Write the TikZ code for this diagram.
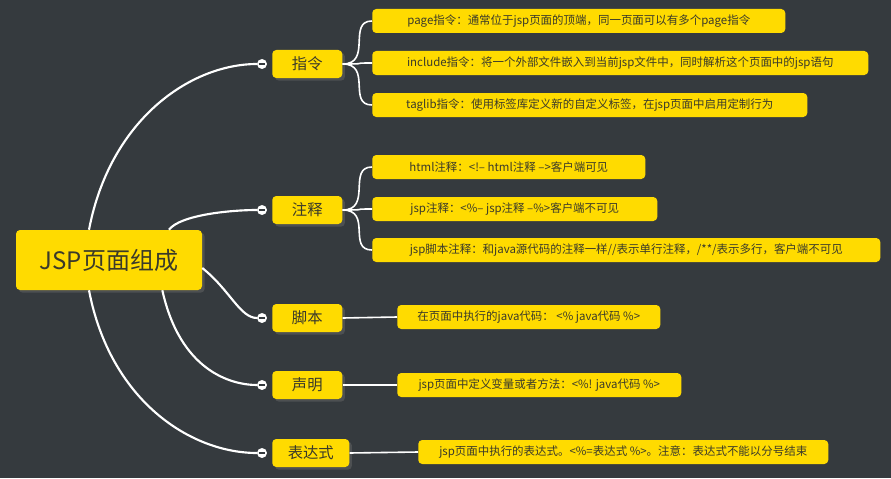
\documentclass[tikz,border=0pt]{standalone}
\usepackage{fontspec}
\setmainfont{Noto Sans CJK SC}
\usetikzlibrary{positioning,shadows}
\definecolor{bgdark}{HTML}{353A3E}
\definecolor{boxyellow}{HTML}{FFDB00}
\definecolor{boxtext}{HTML}{3A3A2A}
\begin{document}
\begin{tikzpicture}
	[%%%%%%%%%%%%%%%%%%%%%%%%%%%%%%%%%%%%%%%%%%%%%%%%%%%%%%%%%%
		x=0.75pt,y=-0.75pt,
		rootbox/.style={fill=boxyellow,rounded corners=3pt,text=boxtext,
			minimum width=139.5pt,minimum height=45pt,font=\fontsize{18}{18}\selectfont,
			drop shadow={shadow xshift=2pt,shadow yshift=-2pt,fill=black!60}},
		topic/.style={fill=boxyellow,rounded corners=3pt,text=boxtext,anchor=west,
			minimum height=21pt,font=\fontsize{11.5}{12}\selectfont,
			drop shadow={shadow xshift=2pt,shadow yshift=-2pt,fill=black!60}},
		leaf/.style={fill=boxyellow,rounded corners=3pt,text=boxtext,anchor=west,
			minimum height=18pt,inner xsep=6pt,font=\fontsize{8.6}{9}\selectfont},
		knob/.style={circle,draw=white,fill=white,inner sep=0pt,minimum size=7pt},
		branch/.style={draw=white,line width=1.6pt},
		twig/.style={draw=white,line width=1.2pt}
	]%%%%%%%%%%%%%%%%%%%%%%%%%%%%%%%%%%%%%%%%%%%%%%%%%%%%%%%%%%
	\fill[bgdark] (0,0) rectangle (891,478);
	\useasboundingbox (0,0) rectangle (891,478);

	\node[rootbox] (root) at (109,260) {JSP页面组成};

	\node[topic,minimum width=52.5pt] (zl) at (272,64) {指令};
	\node[topic,minimum width=52.5pt] (zs) at (272,210) {注释};
	\node[topic,minimum width=52.5pt] (jb) at (272,318) {脚本};
	\node[topic,minimum width=52.5pt] (sm) at (272,385) {声明};
	\node[topic,minimum width=57.75pt] (bds) at (272,453) {表达式};

	\foreach \t in {zl,zs,jb,sm,bds}{
		\node[knob] (k\t) at ([xshift=-7.5pt]\t.west) {};
		\draw[bgdark,line width=1pt] ([xshift=-2.5pt]k\t.center) -- ([xshift=2.5pt]k\t.center);
	}

	\node[leaf,minimum width=309.75pt] (page) at (372,21) {page指令：通常位于jsp页面的顶端，同一页面可以有多个page指令};
	\node[leaf,minimum width=372pt] (incl) at (372,63) {include指令：将一个外部文件嵌入到当前jsp文件中，同时解析这个页面中的jsp语句};
	\node[leaf,minimum width=326.25pt] (tlib) at (372,105) {taglib指令：使用标签库定义新的自定义标签，在jsp页面中启用定制行为};
	\node[leaf,minimum width=204.75pt] (hzs) at (372,167) {html注释：<!-- html注释 -->客户端可见};
	\node[leaf,minimum width=213.75pt] (jzs) at (372,209) {jsp注释：<\%-- jsp注释 --\%>客户端不可见};
	\node[leaf,minimum width=381pt] (jbzs) at (372,250) {jsp脚本注释：和java源代码的注释一样//表示单行注释，/**/表示多行，客户端不可见};
	\node[leaf,minimum width=197.25pt] (jbd) at (397,317) {在页面中执行的java代码： <\% java代码 \%>};
	\node[leaf,minimum width=213pt] (smd) at (397,385) {jsp页面中定义变量或者方法：<\%! java代码 \%>};
	\node[leaf,minimum width=307.5pt] (bdd) at (418,452) {jsp页面中执行的表达式。<\%=表达式 \%>。注意：表达式不能以分号结束};

	% main branches
	\draw[branch] ([xshift=-15pt]root.north) .. controls (110,120) and (190,64) .. (kzl.west);
	\draw[branch] ([xshift=45pt]root.north) .. controls (180,215) and (230,210) .. (kzs.west);
	\draw[branch] ([yshift=-6pt]root.east) .. controls (230,290) and (240,318) .. (kjb.west);
	\draw[branch] ([xshift=40pt]root.south) .. controls (180,370) and (230,385) .. (ksm.west);
	\draw[branch] ([xshift=-15pt]root.south) .. controls (110,400) and (190,453) .. (kbds.west);

	% leaves
	\foreach \a/\b in {zl/page,zl/incl,zl/tlib,zs/hzs,zs/jzs,zs/jbzs}
		\draw[twig] (\a.east) .. controls +(30,0) and +(-25,0) .. (\b.west);
	\draw[twig] (jb.east) -- (jbd.west);
	\draw[twig] (sm.east) -- (smd.west);
	\draw[twig] (bds.east) -- (bdd.west);
\end{tikzpicture}
\end{document}
